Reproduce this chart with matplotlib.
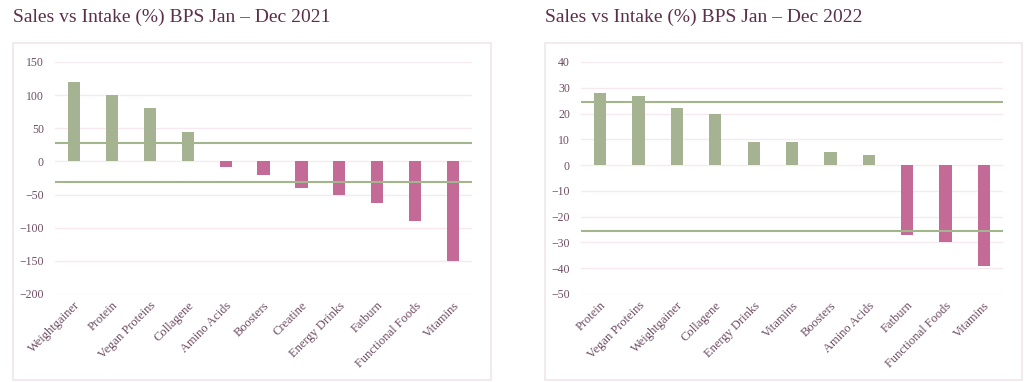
"""Sales vs Intake (%) BPS, 2021 and 2022 side by side."""
import matplotlib

matplotlib.use("Agg")
import matplotlib.pyplot as plt
from matplotlib.patches import Rectangle

cats_2021 = ["Weightgainer", "Protein", "Vegan Proteins", "Collagene", "Amino Acids",
             "Boosters", "Creatine", "Energy Drinks", "Fatburn", "Functional Foods", "Vitamins"]
vals_2021 = [120, 100, 80, 44, -8, -20, -40, -50, -62, -90, -150]
bands_2021 = [28, -31]
yticks_2021 = [150, 100, 50, 0, -50, -100, -150, -200]

cats_2022 = ["Protein", "Vegan Proteins", "Weightgainer", "Collagene", "Energy Drinks",
             "Vitamins", "Boosters", "Amino Acids", "Fatburn", "Functional Foods", "Vitamins"]
vals_2022 = [28, 27, 22, 20, 9, 9, 5, 4, -27, -30, -39]
bands_2022 = [24.5, -25.5]
yticks_2022 = [40, 30, 20, 10, 0, -10, -20, -30, -40, -50]

GREEN = "#a6b393"
PINK = "#c46a96"
LINE = "#a3b58c"
GRID = "#f6e9ef"
TEXT = "#6e4d63"
TITLE = "#5b2f4b"
BOX = "#f1e6eb"

plt.rcParams["font.family"] = ["Liberation Serif", "DejaVu Serif"]

fig = plt.figure(figsize=(10.24, 3.82), dpi=100)


def draw(ax, cats, vals, bands, yticks, title, box, title_x):
    xs = range(len(cats))
    colors = [GREEN if v >= 0 else PINK for v in vals]
    ax.bar(xs, vals, width=0.32, color=colors, zorder=3)
    for b in bands:
        ax.axhline(b, color=LINE, lw=1.5, zorder=4)
    ax.set_xlim(-0.5, len(cats) - 0.5)
    ax.set_ylim(yticks[-1], yticks[0])
    ax.set_yticks(yticks)
    ax.yaxis.grid(True, color=GRID, lw=1.0, zorder=0)
    ax.set_xticks(list(xs))
    ax.set_xticklabels(cats, rotation=45, ha="right", rotation_mode="anchor")
    ax.tick_params(length=0, colors=TEXT)
    ax.tick_params(axis="y", pad=8, labelsize=8.5)
    ax.tick_params(axis="x", pad=4, labelsize=9)
    for s in ax.spines.values():
        s.set_visible(False)
    fig.patches.append(Rectangle((box[0], box[1]), box[2], box[3], transform=fig.transFigure,
                                 fill=False, edgecolor=BOX, lw=1.2, zorder=0))
    fig.text(title_x, 0.955, title, fontsize=14, color=TITLE, va="center", ha="left")


ax1 = fig.add_axes([0.0537, 0.2304, 0.4073, 0.6073])
draw(ax1, cats_2021, vals_2021, bands_2021, yticks_2021,
     "Sales vs Intake (%) BPS Jan \u2013 Dec 2021", (0.0127, 0.006, 0.4668, 0.8814), 0.0127)

ax2 = fig.add_axes([0.5674, 0.2304, 0.4121, 0.6073])
draw(ax2, cats_2022, vals_2022, bands_2022, yticks_2022,
     "Sales vs Intake (%) BPS Jan \u2013 Dec 2022", (0.5322, 0.006, 0.4658, 0.8814), 0.5322)

fig.savefig("out.png", dpi=100)
